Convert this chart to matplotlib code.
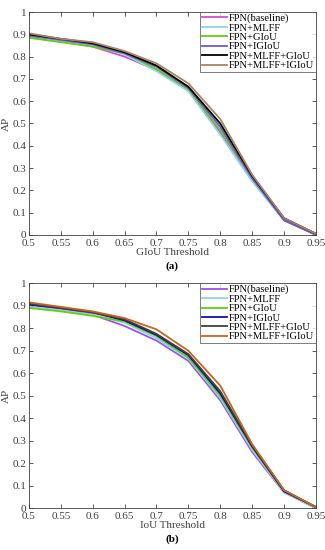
import matplotlib.pyplot as plt

plt.rcParams['font.family'] = ['Liberation Serif', 'DejaVu Serif']

thresholds = [0.5, 0.55, 0.6, 0.65, 0.7, 0.75, 0.8, 0.85, 0.9, 0.95]
labels = ['FPN(baseline)', 'FPN+MLFF', 'FPN+GIoU', 'FPN+IGIoU',
          'FPN+MLFF+GIoU', 'FPN+MLFF+IGIoU']

# (a) GIoU threshold
giou_baseline = [0.890, 0.870, 0.845, 0.800, 0.740, 0.650, 0.460, 0.250, 0.070, 0.000]
giou_mlff = [0.885, 0.870, 0.850, 0.810, 0.735, 0.645, 0.450, 0.240, 0.065, 0.000]
giou_giou = [0.885, 0.865, 0.845, 0.815, 0.745, 0.655, 0.470, 0.255, 0.070, 0.000]
giou_igiou = [0.895, 0.875, 0.855, 0.815, 0.755, 0.660, 0.485, 0.255, 0.065, 0.000]
giou_mlff_giou = [0.900, 0.880, 0.860, 0.820, 0.760, 0.665, 0.500, 0.265, 0.075, 0.005]
giou_mlff_igiou = [0.905, 0.880, 0.865, 0.825, 0.770, 0.680, 0.520, 0.270, 0.075, 0.005]

# (b) IoU threshold
iou_baseline = [0.905, 0.885, 0.860, 0.810, 0.745, 0.655, 0.480, 0.250, 0.070, 0.000]
iou_mlff = [0.895, 0.880, 0.860, 0.825, 0.755, 0.665, 0.490, 0.260, 0.070, 0.000]
iou_giou = [0.890, 0.875, 0.855, 0.830, 0.765, 0.670, 0.500, 0.270, 0.075, 0.005]
iou_igiou = [0.905, 0.890, 0.870, 0.835, 0.770, 0.680, 0.510, 0.275, 0.075, 0.005]
iou_mlff_giou = [0.910, 0.890, 0.870, 0.840, 0.775, 0.685, 0.520, 0.280, 0.080, 0.005]
iou_mlff_igiou = [0.915, 0.895, 0.875, 0.845, 0.795, 0.700, 0.545, 0.285, 0.080, 0.005]

colors_a = ['#d050d0', '#8fd3ee', '#66cc11', '#6a5acd', '#000000', '#a88468']
colors_b = ['#a050e8', '#8fd3ee', '#66cc11', '#1010a0', '#404040', '#c8641e']


def draw(ax, series, colors, xlabel, tag):
    for ys, c, lab in zip(series, colors, labels):
        ax.plot(thresholds, ys, color=c, lw=1.3, label=lab)
    ax.set_xlim(0.5, 0.95)
    ax.set_ylim(0, 1)
    ax.set_xticks(thresholds)
    ax.set_xticklabels(['0.5', '0.55', '0.6', '0.65', '0.7', '0.75',
                        '0.8', '0.85', '0.9', '0.95'])
    ax.set_yticks([i / 10 for i in range(11)])
    ax.set_yticklabels(['0', '0.1', '0.2', '0.3', '0.4', '0.5', '0.6',
                        '0.7', '0.8', '0.9', '1'])
    ax.tick_params(direction='in', top=True, right=True, labelsize=8,
                   length=3, width=0.6, colors='#404040')
    ax.tick_params(axis='x', pad=3)
    ax.tick_params(axis='y', pad=2)
    for s in ax.spines.values():
        s.set_linewidth(0.6)
        s.set_color('#404040')
    ax.set_xlabel(xlabel, fontsize=8, labelpad=0, color='#404040')
    ax.set_ylabel('AP', fontsize=8, labelpad=1, color='#404040')
    leg = ax.legend(loc='upper right', fontsize=7.6, handlelength=2.4,
                    borderpad=0.15, labelspacing=0.0, handletextpad=0.2,
                    fancybox=False, borderaxespad=0)
    leg.get_frame().set_edgecolor('#404040')
    leg.get_frame().set_linewidth(0.6)
    ax.text(0.5, -0.14, tag, transform=ax.transAxes, ha='center',
            va='center', fontsize=8, fontweight='bold')


fig = plt.figure(figsize=(3.25, 5.5), dpi=100)
ax1 = fig.add_axes([0.089, 0.573, 0.883, 0.405])
ax2 = fig.add_axes([0.089, 0.076, 0.883, 0.409])

draw(ax1, [giou_baseline, giou_mlff, giou_giou, giou_igiou,
           giou_mlff_giou, giou_mlff_igiou], colors_a, 'GIoU Threshold', '(a)')
draw(ax2, [iou_baseline, iou_mlff, iou_giou, iou_igiou,
           iou_mlff_giou, iou_mlff_igiou], colors_b, 'IoU Threshold', '(b)')

fig.savefig('out.png', dpi=100)
